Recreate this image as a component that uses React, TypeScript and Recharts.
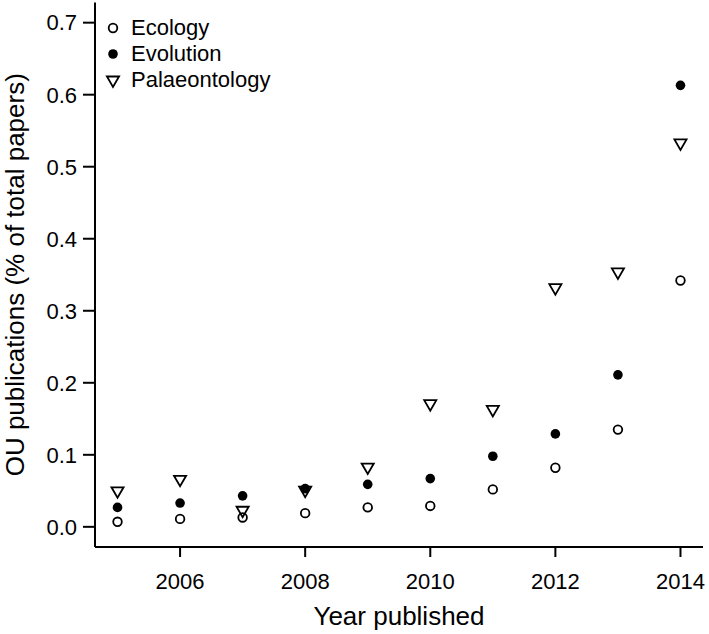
import React from 'react';
import { ScatterChart, Scatter, XAxis, YAxis, Legend } from 'recharts';

const years = [2005, 2006, 2007, 2008, 2009, 2010, 2011, 2012, 2013, 2014];
const ecology = [0.007, 0.011, 0.013, 0.019, 0.027, 0.029, 0.052, 0.082, 0.135, 0.342];
const evolution = [0.027, 0.033, 0.043, 0.053, 0.059, 0.067, 0.098, 0.129, 0.211, 0.613];
const palaeontology = [0.050, 0.066, 0.023, 0.051, 0.083, 0.171, 0.163, 0.332, 0.354, 0.533];

const xTicks = [2006, 2008, 2010, 2012, 2014];
const yTicks = [0, 0.1, 0.2, 0.3, 0.4, 0.5, 0.6, 0.7];

const FONT = '"Liberation Sans", Arial, Helvetica, sans-serif';

const toPoints = (vals: number[]) => vals.map((v, i) => ({ year: years[i], value: v }));

// open symbols are transparent like R's pch 1 / pch 6
const OpenCircle = ({ cx, cy }: any) => (
  <circle cx={cx} cy={cy} r={4.3} fill="none" stroke="#000" strokeWidth={1.8} />
);

const FilledCircle = ({ cx, cy }: any) => (
  <circle cx={cx} cy={cy} r={4.8} fill="#000" />
);

// downward triangle, apex r below centre, base r/2 above
const DownTriangle = ({ cx, cy }: any) => {
  const r = 7;
  const xc = 6.06;
  const pts = `${cx - xc},${cy - r / 2} ${cx + xc},${cy - r / 2} ${cx},${cy + r}`;
  return <polygon points={pts} fill="none" stroke="#000" strokeWidth={1.8} />;
};

const legendItems = [
  { label: 'Ecology', Icon: OpenCircle },
  { label: 'Evolution', Icon: FilledCircle },
  { label: 'Palaeontology', Icon: DownTriangle },
];

const renderLegend = () => (
  <div style={{ fontFamily: FONT, fontSize: 22, color: '#000', lineHeight: '26px' }}>
    {legendItems.map(({ label, Icon }) => (
      <div key={label} style={{ display: 'flex', alignItems: 'center', height: 26 }}>
        <svg width={27} height={26}>
          <Icon cx={9} cy={13} />
        </svg>
        <span>{label}</span>
      </div>
    ))}
  </div>
);

export default function App() {
  return (
    <div style={{ width: 709, height: 634, background: '#fff' }}>
      <style>{'body{margin:0}'}</style>
      <ScatterChart width={709} height={634} margin={{ top: 2.5, right: 6, bottom: 0, left: 0 }}>
        <XAxis
          type="number"
          dataKey="year"
          domain={[2004.64, 2014.36]}
          ticks={xTicks}
          allowDataOverflow
          height={87}
          axisLine={{ stroke: '#000', strokeWidth: 2 }}
          tickLine={{ stroke: '#000', strokeWidth: 2 }}
          tickSize={10}
          tickMargin={16}
          tick={{ fontSize: 22, fill: '#000', fontFamily: FONT }}
          label={{ value: 'Year published', position: 'insideBottom', offset: 9, fontSize: 26, fill: '#000', fontFamily: FONT }}
        />
        <YAxis
          type="number"
          dataKey="value"
          domain={[-0.028, 0.728]}
          ticks={yTicks}
          allowDataOverflow
          width={95}
          axisLine={{ stroke: '#000', strokeWidth: 2 }}
          tickLine={{ stroke: '#000', strokeWidth: 2 }}
          tickSize={12}
          tickMargin={6}
          tickFormatter={(v: number) => v.toFixed(1)}
          tick={{ fontSize: 22, fill: '#000', fontFamily: FONT }}
          label={{
            value: 'OU publications (% of total papers)',
            angle: -90,
            position: 'insideLeft',
            offset: 15,
            fontSize: 26,
            fill: '#000',
            fontFamily: FONT,
            style: { textAnchor: 'middle' },
          }}
        />
        <Legend
          layout="vertical"
          align="center"
          verticalAlign="middle"
          content={renderLegend}
          wrapperStyle={{ left: 104, top: 15, right: 'auto', bottom: 'auto', width: 'auto' }}
        />
        <Scatter name="Ecology" data={toPoints(ecology)} shape={OpenCircle} isAnimationActive={false} />
        <Scatter name="Evolution" data={toPoints(evolution)} shape={FilledCircle} isAnimationActive={false} />
        <Scatter name="Palaeontology" data={toPoints(palaeontology)} shape={DownTriangle} isAnimationActive={false} />
      </ScatterChart>
    </div>
  );
}
